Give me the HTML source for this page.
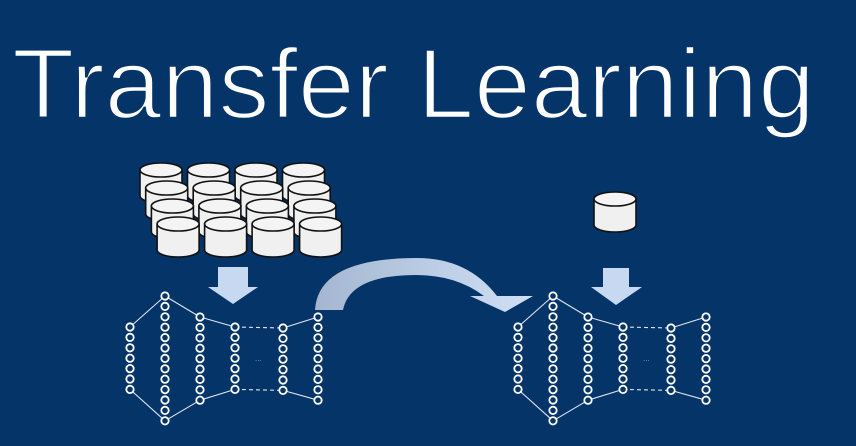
<!DOCTYPE html>
<html><head><meta charset="utf-8"><style>
html,body{margin:0;padding:0;background:#053468;}
svg{display:block}
</style></head><body>
<svg id="s" width="856" height="446" viewBox="0 0 856 446" xmlns="http://www.w3.org/2000/svg">
<rect width="856" height="446" fill="#053468"/>
<text x="12" y="118" font-family="Liberation Sans, sans-serif" font-size="99" fill="#ffffff" stroke="#053468" stroke-width="2.5" textLength="803" lengthAdjust="spacingAndGlyphs">Transfer Learning</text>
<defs>
<linearGradient id="g" x1="0" y1="0" x2="1" y2="0">
<stop offset="0" stop-color="#a5b6d0"/><stop offset="1" stop-color="#cfe0f6"/>
</linearGradient>
</defs>
<path d="M315,310 Q318,258 417,258 Q468,258 497,296 L533,296 L505,312 L470,296 L484,296 Q456,275 416,275 Q350,275 343,310 Z" fill="url(#g)"/>
<g id="cyl"></g>
<polygon points="218,267 248,267 248,287 258,287 233,304 208,287 218,287" fill="#c6d9f1"/>
<polygon points="603,268 629,268 629,287 642,287 616,305 591,287 603,287" fill="#c6d9f1"/>
<g id="net"></g>
</svg>
<script>
var NS="http://www.w3.org/2000/svg";
function el(p,t,a){var e=document.createElementNS(NS,t);for(var k in a)e.setAttribute(k,a[k]);p.appendChild(e);return e;}
var cyl=document.getElementById('cyl');
function cylinder(x,y,w,h){
 var ry=7,g=el(cyl,'g',{});
 el(g,'path',{d:'M'+x+','+(y+ry)+' L'+x+','+(y+h-ry)+' A'+(w/2)+','+ry+' 0 0 0 '+(x+w)+','+(y+h-ry)+' L'+(x+w)+','+(y+ry)+' Z',fill:'#f0f0f0',stroke:'#111',"stroke-width":1.6});
 el(g,'ellipse',{cx:x+w/2,cy:y+ry,rx:w/2,ry:ry,fill:'#f4f4f4',stroke:'#111',"stroke-width":1.6});
}
for(var r=0;r<4;r++)for(var c=0;c<4;c++){cylinder(140+r*5.7+c*47.5,163+r*18,42,40);}
cylinder(594,192,42,40);
var net=document.getElementById('net');
function network(ox){
 var cols=[[0,327,7],[35,296,13],[70,317,9],[105,327,7],[153,328,7],[188,317,9]];
 var sp=10.4;
 function top(i){return [ox+cols[i][0],cols[i][1]];}
 function bot(i){return [ox+cols[i][0],cols[i][1]+(cols[i][2]-1)*sp];}
 for(var i=0;i<5;i++){
  var a=top(i),b=top(i+1),c=bot(i),d=bot(i+1);
  var st={stroke:'#dfe6f0',"stroke-width":1.1};
  if(i==3){st["stroke-dasharray"]="4,3";}
  el(net,'line',Object.assign({x1:a[0],y1:a[1],x2:b[0],y2:b[1]},st));
  el(net,'line',Object.assign({x1:c[0],y1:c[1],x2:d[0],y2:d[1]},st));
 }
 for(var i=0;i<6;i++)for(var j=0;j<cols[i][2];j++)
  el(net,'circle',{cx:ox+cols[i][0],cy:cols[i][1]+j*sp,r:3.7,fill:'#053468',stroke:'#fff',"stroke-width":1.8});
 var t=el(net,'text',{x:ox+125,y:361,fill:'#8aa0c0',"font-size":8,"font-family":"Liberation Sans, sans-serif"});t.textContent='...';
}
network(130);network(518);
</script>
</body></html>
